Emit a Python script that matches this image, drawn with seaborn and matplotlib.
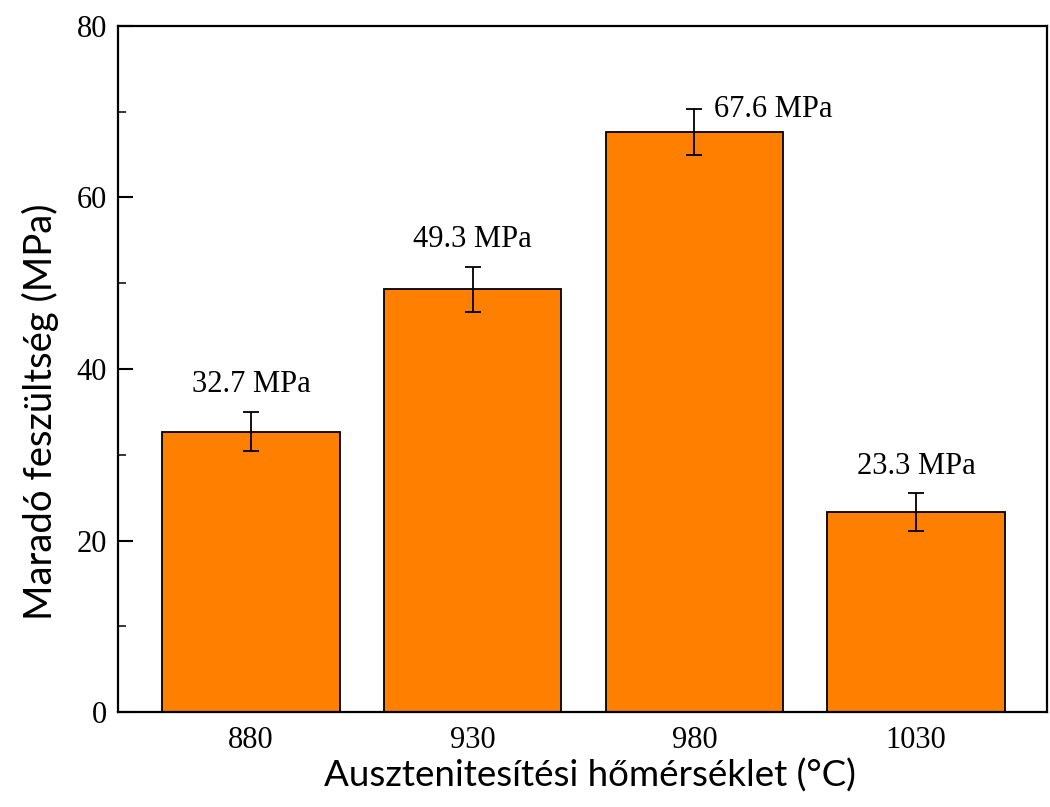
import matplotlib
matplotlib.use("Agg")
import matplotlib.pyplot as plt
from matplotlib.ticker import MultipleLocator
import seaborn as sns
import pandas as pd

temps = ["880", "930", "980", "1030"]
stress = [32.7, 49.3, 67.6, 23.3]
stress_err = [2.3, 2.6, 2.7, 2.2]
value_labels = ["32.7 MPa", "49.3 MPa", "67.6 MPa", "23.3 MPa"]

sns.set_theme(style="white")
plt.rcParams["font.family"] = ["Liberation Serif", "DejaVu Serif"]
plt.rcParams["text.color"] = "black"
plt.rcParams["axes.labelcolor"] = "black"

df = pd.DataFrame({"temp": temps, "stress": stress})

fig = plt.figure(figsize=(10.5, 8.07), dpi=100)
ax = fig.add_axes([0.1124, 0.1177, 0.8846, 0.8501])

sns.barplot(data=df, x="temp", y="stress", order=temps, color="#FF8000",
            saturation=1, width=0.8, edgecolor="black", linewidth=1.3,
            errorbar=None, ax=ax, zorder=2)

positions = list(range(len(temps)))
ax.errorbar(positions, stress, yerr=stress_err, fmt="none", ecolor="black",
            elinewidth=1.3, capsize=6, capthick=1.3, zorder=3)

for i, (v, e, lab) in enumerate(zip(stress, stress_err, value_labels)):
    if i == 2:
        ax.annotate(lab, (i, v + e), xytext=(14, 0), textcoords="offset points",
                    ha="left", va="center", fontsize=22, color="black")
    else:
        ax.annotate(lab, (i, v + e), xytext=(0, 9), textcoords="offset points",
                    ha="center", va="bottom", fontsize=22, color="black")

ax.set_xlim(-0.6, 3.59)
ax.set_ylim(0, 80)
ax.yaxis.set_major_locator(MultipleLocator(20))
ax.yaxis.set_minor_locator(MultipleLocator(10))

for side in ["left", "right", "top", "bottom"]:
    ax.spines[side].set_visible(True)
    ax.spines[side].set_color("black")
    ax.spines[side].set_linewidth(1.6)

ax.tick_params(axis="y", which="major", direction="in", length=11, width=1.5,
               labelsize=22, colors="black", left=True, pad=8)
ax.tick_params(axis="y", which="minor", direction="in", length=6, width=1.3,
               left=True)
ax.tick_params(axis="x", which="major", direction="in", length=6, width=1.2,
               labelsize=22, colors="black", bottom=True, pad=10)

ax.set_xlabel("Ausztenitesítési hőmérséklet (°C)", fontsize=26.5,
              family=["Lato", "DejaVu Sans"])
ax.xaxis.label.set_va("center")
ax.xaxis.set_label_coords(0.508, -0.092)
ax.set_ylabel("Maradó feszültség (MPa)", fontsize=27.5,
              family=["Lato", "DejaVu Sans"])
ax.yaxis.label.set_va("center")
ax.yaxis.set_label_coords(-0.084, 0.437)

fig.savefig("out.png", dpi=100)
